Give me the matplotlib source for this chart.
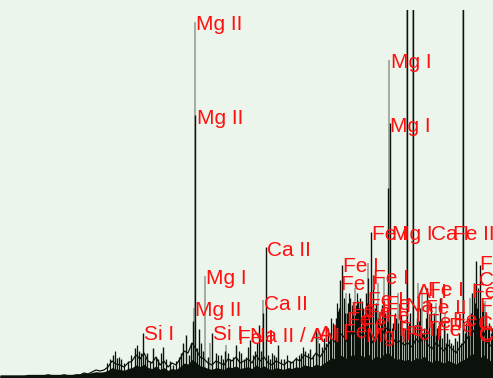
import numpy as np
import matplotlib
matplotlib.use("Agg")
import matplotlib.pyplot as plt

# Detector channel grid for the continuum (one sample every 4 channels)
continuum_channel = np.arange(0, 493, 4)
continuum_counts = [
    -4, -4, -4, -4, -4, -4, -4, -3, -3, -3,
    -3, -3, -2, -3, -3, -3, -2, -3, -3, -2,
    -2, 0, -1, 1, 3, 2, 3, 6, 12, 9,
    8, 6, 10, 12, 18, 14, 20, 12, 10, 16,
    8, 12, 6, 10, 8, 14, 22, 20, 30, 24,
    16, 14, 10, 8, 12, 10, 8, 14, 12, 16,
    10, 12, 14, 10, 18, 12, 16, 10, 8, 12,
    10, 8, 12, 10, 14, 12, 18, 16, 14, 20,
    16, 22, 28, 34, 30, 40, 36, 30, 42, 38,
    40, 36, 44, 30, 38, 34, 42, 46, 36, 30,
    32, 28, 30, 26, 34, 30, 38, 28, 24, 30,
    26, 22, 28, 24, 20, 26, 30, 36, 44, 38,
    34, 40, 30, 26,
]

# Emission lines of the dark (main) spectrum: channel, peak counts
main_line_channel = [
    113, 117, 121, 135, 139, 143, 147, 153, 158, 163, 170, 181, 183, 186, 189,
    191, 193, 195, 199, 203, 208, 212, 216, 221, 225, 230, 236, 241, 246, 250,
    255, 259, 263, 266, 270, 274, 278, 284, 290, 296, 301, 305, 310, 316, 322,
    326, 330, 333, 336, 338, 340, 342, 345, 348, 350, 353, 356, 358, 360, 363,
    366, 368, 371, 373, 376, 379, 382, 385, 388, 390, 393, 396, 400, 403, 407,
    410, 413, 417, 420, 424, 427, 431, 434, 437, 440, 444, 447, 451, 455, 459,
    463, 466, 469, 472, 474, 476, 478, 480, 483, 486, 489, 492,
]
main_line_counts = [
    18, 15, 14, 25, 22, 40, 20, 25, 14, 26, 12, 20, 30, 38, 18,
    30, 52, 258, 44, 22, 16, 40, 20, 18, 22, 14, 28, 20, 16, 33,
    22, 48, 60, 126, 14, 18, 28, 14, 12, 16, 20, 22, 24, 45, 26,
    30, 40, 50, 55, 62, 93, 108, 60, 70, 75, 62, 68, 72, 75, 65,
    80, 95, 141, 98, 70, 60, 68, 60, 185, 250, 50, 55, 70, 40, 420,
    60, 420, 55, 65, 45, 85, 70, 60, 45, 75, 50, 40, 30, 35, 40,
    420, 50, 55, 80, 90, 112, 85, 108, 70, 60, 50, 45,
]

# Weak lines blended into the continuum of the main spectrum
weak_line_channel = [
    107, 110, 115, 119, 124, 128, 131, 137, 141, 145, 150, 156, 161, 166, 173,
    176, 179, 197, 201, 218, 223, 228, 233, 239, 244, 248, 253, 257, 261, 268,
    272, 276, 281, 287, 293, 299, 303, 308, 313, 319, 324, 328, 331, 335, 337,
    339, 344, 347, 349, 352, 355, 357, 359, 362, 365, 367, 370, 375, 378, 381,
    384, 387, 392, 395, 398, 401, 405, 409, 412, 415, 419, 422, 426, 429, 433,
    436, 439, 442, 446, 449, 453, 457, 461, 465, 468, 471, 475, 477, 479, 482,
    485, 488, 491,
]
weak_line_counts = [
    10, 14, 22, 16, 10, 12, 18, 28, 20, 16, 12, 16, 20, 14, 8,
    12, 16, 25, 30, 18, 14, 20, 16, 22, 14, 26, 18, 30, 22, 18,
    20, 16, 14, 18, 12, 18, 26, 20, 18, 30, 35, 45, 55, 48, 70,
    65, 75, 60, 80, 68, 58, 80, 65, 72, 60, 70, 80, 65, 55, 50,
    72, 60, 45, 60, 50, 58, 45, 50, 40, 48, 52, 40, 55, 48, 50,
    38, 44, 35, 30, 34, 28, 32, 30, 40, 48, 60, 70, 65, 55, 62,
    50, 45, 40,
]

# Emission lines of the faint (second exposure) spectrum
faint_line_channel = [194, 195, 205, 210, 226, 263, 318, 346, 355, 368,
                      378, 384, 389, 398, 407, 413, 418, 422, 436, 445,
                      463, 470, 485]
faint_line_counts = [65, 351, 97, 30, 28, 73, 40, 80, 85, 110,
                     90, 95, 313, 80, 420, 420, 90, 85, 70, 60,
                     420, 75, 72]

# Line identifications: text, channel, counts
ident_text = [
    "Mg II", "Mg II", "Mg I", "Mg I", "Mg II", "Mg I", "Si I", "Si I",
    "Fe I", "Na II / Al I", "Ca II", "Ca II",
    "Fe I", "Fe I", "Fe I", "Fe I", "Mg I", "Ca I", "Fe II",
    "Al I", "Fe I", "Fe I", "Ca I", "Fe I",
    "Fe I", "Fe I", "Na I", "Fe II",
    "Fe I", "Fe I", "Fe I", "Fe I", "Fe I", "Ca I",
    "Fe I", "Fe I", "Fe I", "Ca I", "Fe I", "Fe I", "Al I", "Fe I",
    "Mg I", "Fe I", "Fe I", "Ca I",
]
ident_channel = [
    195, 196, 390, 389, 194, 205, 143, 212,
    237, 249, 266, 263,
    342, 340, 371, 372, 391, 430, 452,
    416, 427, 479, 478, 471,
    367, 385, 405, 424,
    350, 346, 361, 426, 452, 477,
    366, 398, 479, 478, 342, 384, 318, 436,
    365, 405, 448, 478,
]
ident_counts = [
    351, 257, 312, 248, 65, 97, 40, 40,
    36, 38, 125, 71,
    108, 91, 140, 96, 140, 140, 140,
    82, 85, 111, 95, 83,
    75, 70, 68, 66,
    65, 55, 50, 52, 55, 51,
    62, 45, 68, 40, 42, 58, 40, 44,
    38, 40, 48, 39,
]

fig = plt.figure(figsize=(4.93, 3.78), dpi=100, facecolor="#ecf5ec")
ax = fig.add_axes([0, 0, 1, 368 / 378])
ax.set_facecolor("#ecf5ec")
ax.set_xlim(0, 493)
ax.set_ylim(-5, 363)
ax.set_axis_off()

ink = "#0b120b"
ax.vlines(faint_line_channel, 0, faint_line_counts, color="#8f9a8f",
          linewidth=1.1, zorder=1)
ax.fill_between(continuum_channel, -5, np.array(continuum_counts) * 0.45,
                color=ink, linewidth=0, zorder=2)
ax.plot(continuum_channel, continuum_counts, color=ink,
        linewidth=0.9, zorder=2)
ax.vlines(weak_line_channel, -5, weak_line_counts, color=ink,
          linewidth=0.9, zorder=2)
ax.vlines(main_line_channel, -5, main_line_counts, color=ink,
          linewidth=1.0, zorder=2)

for text, ch, cnt in zip(ident_text, ident_channel, ident_counts):
    ax.text(ch + 1, cnt - 2, text, color="#ff1010", fontsize=15,
            family="Liberation Sans", ha="left", va="center", zorder=3)

fig.savefig("out.png", dpi=100, facecolor=fig.get_facecolor())
